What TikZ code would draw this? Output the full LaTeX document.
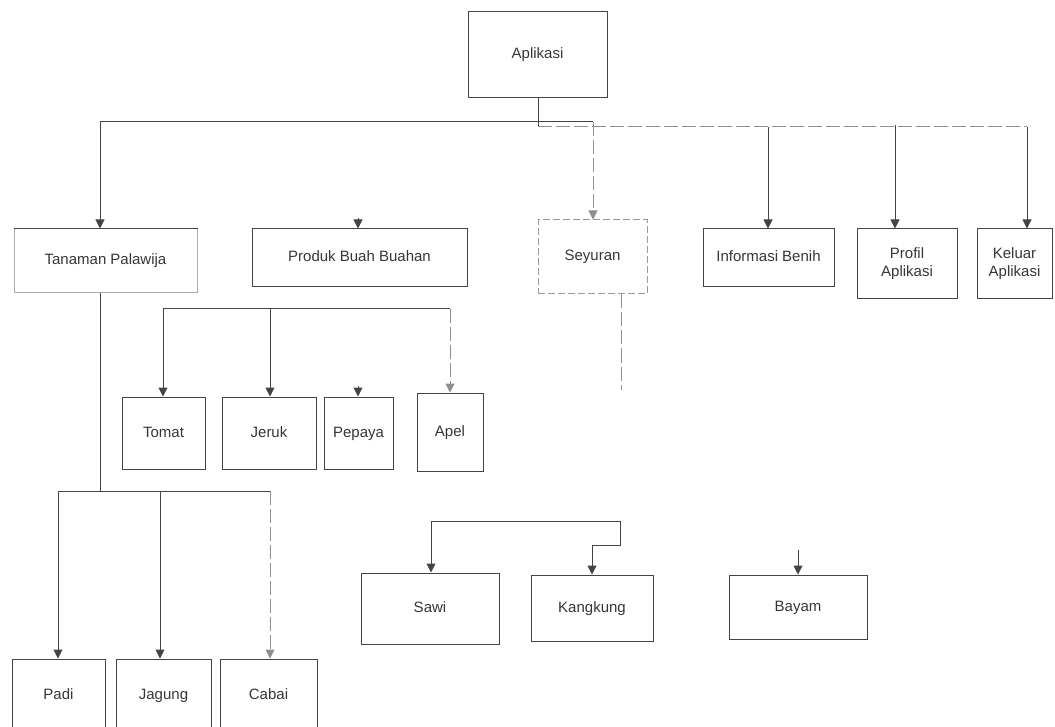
\documentclass[tikz,border=0pt]{standalone}
\usepackage{fontspec}
\setmainfont{Liberation Sans}
\usetikzlibrary{arrows.meta}
\definecolor{ink}{HTML}{444444}
\definecolor{txt}{HTML}{363636}
\begin{document}
\begin{tikzpicture}[x=1pt,y=-1pt,
  box/.style={draw=ink, line width=1pt, inner sep=0pt, text=txt,
    font=\fontsize{15}{18}\selectfont, align=center,
    text height=11pt, text depth=3pt},
  twoline/.style={text height=, text depth=},
  softbox/.style={box, draw=ink!55, dash pattern=on 7pt off 3pt},
  link/.style={draw=ink, line width=1pt},
  soft/.style={draw=ink!60, dash pattern=on 14pt off 4pt},
  arr/.style={link, -{Triangle[width=9pt,length=9pt]}},
]
\clip (0,0) rectangle (1055,727);
\fill[white] (0,0) rectangle (1055,727);

% ---- root ----
\node[box, minimum width=139pt, minimum height=86pt] (apl) at (537.5,55) {Aplikasi};

% ---- main menu ----
\node[box, draw=ink!45, minimum width=183pt, minimum height=64pt] (tan) at (105.5,261) {Tanaman Palawija};
\draw[link] (tan.north west) -- (tan.north east);
\node[box, minimum width=215pt, minimum height=58pt] (pro) at (359.5,258) {Produk Buah Buahan};
\node[softbox, minimum width=109pt, minimum height=74pt] (sey) at (592.5,257) {Seyuran};
\node[box, minimum width=131pt, minimum height=58pt] (inf) at (768.5,258) {Informasi Benih};
\node[box, twoline, minimum width=100pt, minimum height=70pt] (prf) at (907,264) {Profil\\Aplikasi};
\node[box, twoline, minimum width=75pt, minimum height=70pt] (kel) at (1014.5,264) {Keluar\\Aplikasi};

% ---- fruit ----
\node[box, minimum width=83pt, minimum height=72pt] (tom) at (163.5,433) {Tomat};
\node[box, minimum width=94pt, minimum height=72pt] (jer) at (269,433) {Jeruk};
\node[box, minimum width=69pt, minimum height=72pt] (pap) at (358.5,433) {Pepaya};
\node[box, minimum width=66pt, minimum height=78pt] (ape) at (450,432) {Apel};

% ---- vegetables ----
\node[box, minimum width=138pt, minimum height=71pt] (saw) at (430,608.5) {Sawi};
\node[box, minimum width=122pt, minimum height=66pt] (kan) at (592,608) {Kangkung};
\node[box, minimum width=138pt, minimum height=64pt] (bay) at (798,607) {Bayam};

% ---- crops ----
\node[box, minimum width=93pt, minimum height=72pt] (pad) at (58.5,695) {Padi};
\node[box, minimum width=95pt, minimum height=72pt] (jag) at (163.5,695) {Jagung};
\node[box, minimum width=97pt, minimum height=72pt] (cab) at (268.5,695) {Cabai};

% ---- bus points ----
\coordinate (rootJ) at (538,127);
\coordinate (busL0) at (100,122);
\coordinate (busL1) at (593,122);
\coordinate (busR1) at (1027,127);
\coordinate (inC) at (768,127);
\coordinate (prC) at (895,125);
\coordinate (proT) at (358,218);

\coordinate (fruL) at (163,309);
\coordinate (fruJ) at (270,309);
\coordinate (fruR) at (450,309);
\coordinate (papT) at (358,386);

\coordinate (tanB) at (100,491);
\coordinate (cropL) at (58,491);
\coordinate (cropM) at (160,491);
\coordinate (cropR) at (270,491);

\coordinate (seyB) at (621,390);
\coordinate (vegL) at (431,521);
\coordinate (vegR) at (620,521);
\coordinate (vegK) at (620,545);
\coordinate (bayT) at (798,550);

% ---- root connectors ----
\draw[link] (apl.south -| rootJ) -- (rootJ);
\draw[link] (busL0) -- (busL1);
\draw[link, soft] (rootJ) -- (busR1);
\draw[arr] (busL0) -- (busL0 |- tan.north);
\draw[arr] (proT) -- (proT |- pro.north);
\draw[arr, soft] (busL1) -- (busL1 |- sey.north);
\draw[arr] (inC) -- (inC |- inf.north);
\draw[arr] (prC) -- (prC |- prf.north);
\draw[arr] (busR1) -- (busR1 |- kel.north);

% ---- fruit connectors ----
\draw[link] (fruL) -- (fruR);
\draw[arr] (fruL) -- (fruL |- tom.north);
\draw[arr] (fruJ) -- (fruJ |- jer.north);
\draw[arr] (papT) -- (papT |- pap.north);
\draw[arr, soft] (fruR) -- (fruR |- ape.north);

% ---- crop connectors ----
\draw[link] (tan.south -| tanB) -- (tanB);
\draw[link] (cropL) -- (cropR);
\draw[arr] (cropL) -- (cropL |- pad.north);
\draw[arr] (cropM) -- (cropM |- jag.north);
\draw[arr, soft] (cropR) -- (cropR |- cab.north);

% ---- vegetable connectors ----
\draw[link, soft] (sey.south -| seyB) -- (seyB);
\draw[link] (vegR) -- (vegL);
\draw[arr] (vegL) -- (vegL |- saw.north);
\draw[arr] (vegR) -- (vegK) -| (kan.north);
\draw[arr] (bayT) -- (bay.north);
\end{tikzpicture}
\end{document}
